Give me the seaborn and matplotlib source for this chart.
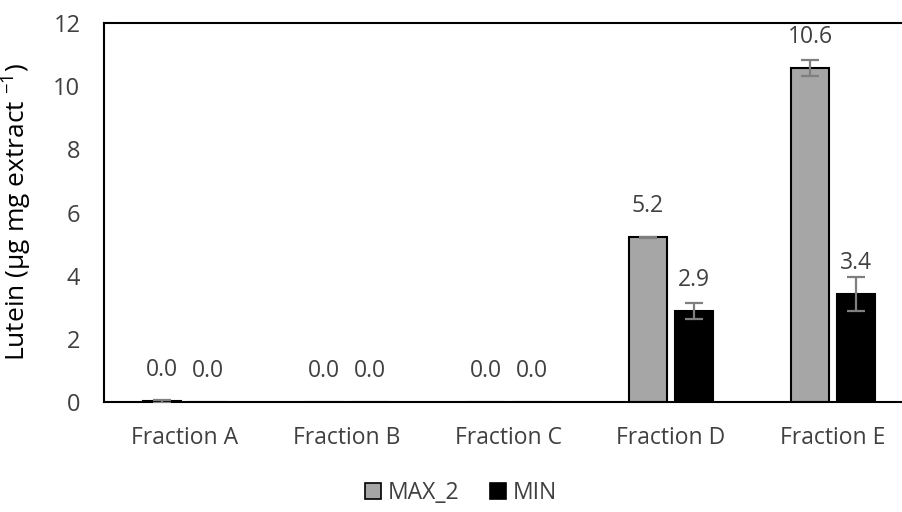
import pandas as pd
import matplotlib
matplotlib.use("Agg")
import matplotlib.pyplot as plt
import seaborn as sns
from matplotlib.patches import Patch

fractions = ["Fraction A", "Fraction B", "Fraction C", "Fraction D", "Fraction E"]
max2_vals = [0.02, 0.0, 0.0, 5.21, 10.58]
max2_err = [0.04, 0.0, 0.0, 0.03, 0.26]
min_vals = [0.0, 0.0, 0.0, 2.87, 3.42]
min_err = [0.0, 0.0, 0.0, 0.25, 0.53]
series = ["MAX_2", "MIN"]
colors = {"MAX_2": "#A6A6A6", "MIN": "#000000"}

df = pd.DataFrame({
    "fraction": fractions * 2,
    "series": ["MAX_2"] * 5 + ["MIN"] * 5,
    "value": max2_vals + min_vals,
})
errs = {"MAX_2": max2_err, "MIN": min_err}
vals = {"MAX_2": max2_vals, "MIN": min_vals}

sns.set_style("white")
plt.rcParams["font.family"] = ["Open Sans", "DejaVu Sans"]
plt.rcParams["mathtext.default"] = "regular"
text_color = "#404040"

fig = plt.figure(figsize=(9.03, 5.12), dpi=100)
ax = fig.add_axes([104 / 903, 1 - 402 / 512, 810 / 903, 379 / 512])

sns.barplot(data=df, x="fraction", y="value", hue="series", order=fractions,
            hue_order=series, palette=colors, errorbar=None, width=0.568, gap=0.17,
            edgecolor="black", linewidth=1.5, ax=ax, legend=False)

for cont, s in zip(ax.containers, series):
    xs = [p.get_x() + p.get_width() / 2 for p in cont.patches]
    for x, v, e in zip(xs, vals[s], errs[s]):
        if e > 0:
            ax.errorbar(x, v, yerr=e, fmt="none", ecolor="#7F7F7F",
                        elinewidth=1.6, capsize=6.5, capthick=1.6, zorder=5)
        ax.annotate(f"{v:.1f}", (x, v), xytext=(0, 31), textcoords="offset pixels",
                    ha="center", va="center", fontsize=16.5, color=text_color)

ax.set_xlim(-0.5, 4.5)
ax.set_ylim(0, 12)
ax.set_yticks(range(0, 13, 2))
ax.set_xlabel("")
ax.set_ylabel(r"Lutein (μg mg extract $^{-1}$)", fontsize=19, color="black", labelpad=14)
ax.tick_params(axis="y", length=0, pad=17, labelsize=17, labelcolor=text_color)
ax.tick_params(axis="x", length=0, pad=17, labelsize=16.5, labelcolor=text_color)
for sp in ax.spines.values():
    sp.set_visible(True)
    sp.set_color("black")
    sp.set_linewidth(1.5)

handles = [Patch(facecolor=colors[s], edgecolor="black", linewidth=1.2, label=s) for s in series]
fig.legend(handles=handles, loc="center", bbox_to_anchor=(461 / 903, 1 - 493 / 512), ncol=2,
           frameon=False, fontsize=16.5, handlelength=0.7, handleheight=0.7,
           handletextpad=0.3, columnspacing=1.3, labelcolor=text_color)

fig.savefig("out.png", dpi=100)
